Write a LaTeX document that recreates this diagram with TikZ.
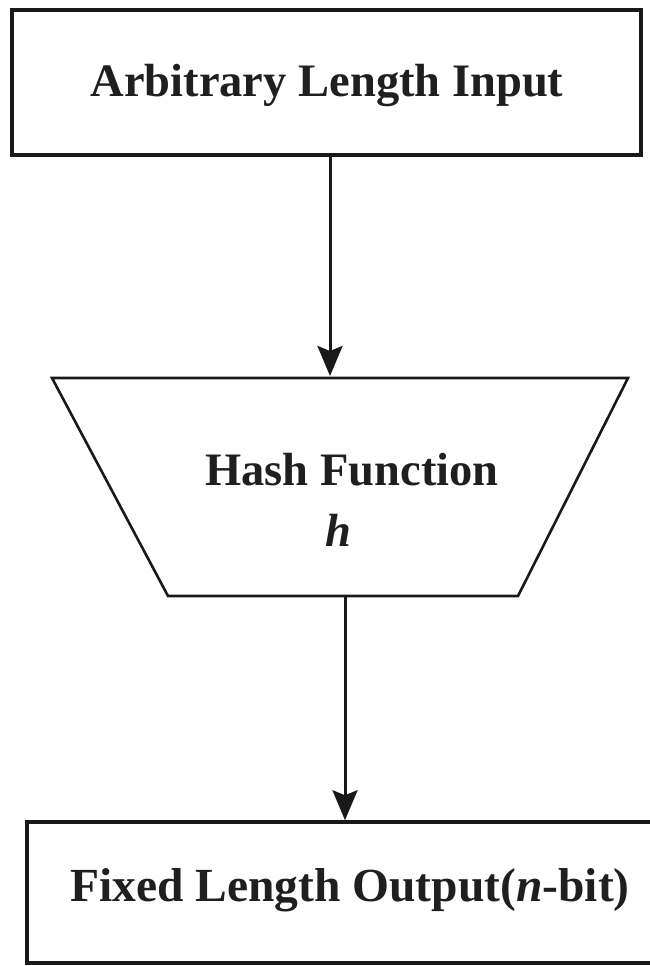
\documentclass[tikz,border=0pt]{standalone}
\usepackage{fontspec}
\setmainfont{Liberation Serif}
\usetikzlibrary{arrows.meta}
\begin{document}
\begin{tikzpicture}[x=1pt,y=1pt,
  boxstyle/.style={draw=black!90, line width=3.5pt, fill=white, inner sep=0pt},
  lbl/.style={font=\fontsize{46.5}{54}\selectfont\bfseries, text=black!88, inner sep=0pt},
  arr/.style={draw=black!90, line width=3pt, -{Stealth[length=30pt,width=25pt,inset=5pt]}}]
\useasboundingbox (0,0) rectangle (649,-966);
\node[boxstyle, minimum width=629pt, minimum height=145pt] (in) at (326.5,-82.5) {};
\node[lbl] (intext) at (327,-85) {Arbitrary Length Input};
% trapezoid
\coordinate (tl) at (52,-378);
\coordinate (tr) at (628,-378);
\coordinate (br) at (518,-596);
\coordinate (bl) at (168,-596);
\draw[line width=2.6pt, draw=black!90] (tl) -- (tr) -- (br) -- (bl) -- cycle;
\node[lbl] (hash) at (352,-470) {Hash Function};
\node[lbl] (hsym) at (338,-530) {\itshape h};
\coordinate (hin) at (330,-376);
\coordinate (hout) at (345,-597);
% output box
\node[boxstyle, minimum width=630pt, minimum height=141pt] (out) at (342,-892.5) {};
\node[lbl, font=\fontsize{47.5}{54}\selectfont\bfseries] (outtext) at (350,-890) {Fixed Length Output(\textit{n}-bit)};
\draw[arr] (in.south -| hin) -- (hin);
\draw[arr] (hout) -- (hout |- out.north);
\end{tikzpicture}
\end{document}
